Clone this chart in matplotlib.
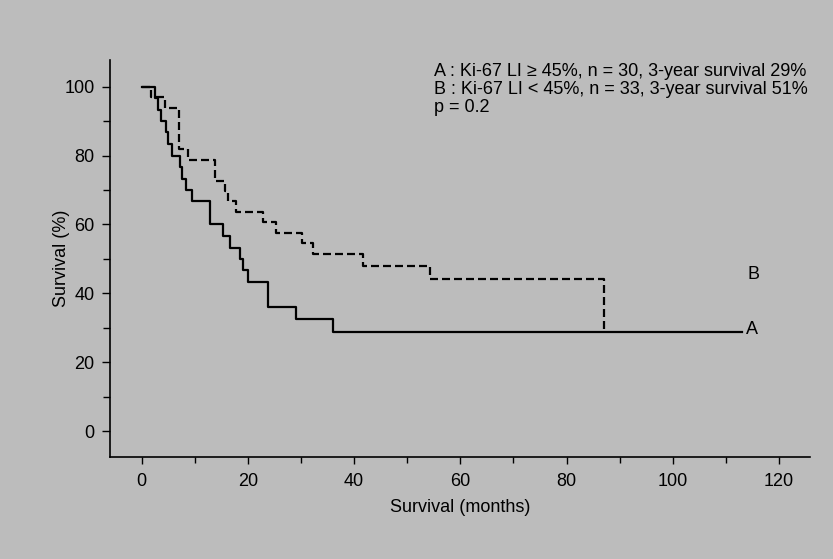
import matplotlib
matplotlib.use('Agg')
import matplotlib.pyplot as plt
from matplotlib.ticker import MultipleLocator

# Kaplan-Meier steps (months, % surviving)
months_a = [0, 2.45, 3.1, 3.7, 4.65, 5.0, 5.6, 7.1, 7.5, 8.4, 9.4, 12.8, 15.2, 16.6, 18.5, 19.1, 20.0, 23.8, 29.1, 36.0, 113.0]
surv_a = [100, 96.7, 93.3, 90.0, 86.7, 83.3, 80.0, 76.7, 73.3, 70.0, 66.7, 60.0, 56.7, 53.3, 50.0, 46.7, 43.3, 36.1, 32.5, 28.9, 28.9]

months_b = [0, 1.8, 4.3, 7.0, 8.7, 13.7, 15.6, 16.3, 17.8, 22.8, 25.2, 30.2, 32.3, 41.7, 54.2, 87.0]
surv_b = [100, 97.0, 93.9, 81.8, 78.8, 72.7, 69.7, 66.7, 63.6, 60.6, 57.6, 54.5, 51.5, 47.8, 44.1, 29.4]

legend_lines = ['A : Ki-67 LI \u2265 45%, n = 30, 3-year survival 29%',
                'B : Ki-67 LI < 45%, n = 33, 3-year survival 51%',
                'p = 0.2']

BG = '#bcbcbc'
FS = 13
plt.rcParams['font.family'] = ['Liberation Sans', 'DejaVu Sans']
plt.rc('font', size=FS)
plt.rc('xtick', labelsize=FS)
plt.rc('ytick', labelsize=FS)

fig = plt.figure(figsize=(8.33, 5.59), dpi=100, facecolor=BG)
ax = fig.add_axes([0.132, 0.182, 0.840, 0.711])
ax.set_facecolor(BG)

ax.plot(months_a, surv_a, drawstyle='steps-post', color='black', lw=1.6)
ax.plot(months_b, surv_b, drawstyle='steps-post', color='black', lw=1.6,
        linestyle=(0, (3.6, 1.8)))

ax.text(113.8, 29.5, 'A', ha='left', va='center', fontsize=FS)
ax.text(114.0, 45.5, 'B', ha='left', va='center', fontsize=FS)

# three-line key in the upper right
for i, line in enumerate(legend_lines):
    fig.text(434 / 833, 1 - (71 + 18 * i) / 559, line, ha='left', va='center', fontsize=FS)

ax.set_xlim(-6, 125.8)
ax.set_ylim(-7.6, 107.8)
ax.xaxis.set_major_locator(MultipleLocator(20))
ax.xaxis.set_minor_locator(MultipleLocator(10))
ax.yaxis.set_major_locator(MultipleLocator(20))
ax.yaxis.set_minor_locator(MultipleLocator(10))
ax.tick_params(which='both', direction='out', width=1.0, color='black')
ax.tick_params(axis='x', which='major', length=5, pad=6)
ax.tick_params(axis='x', which='minor', length=4)
ax.tick_params(axis='y', which='major', length=6, pad=5)
ax.tick_params(axis='y', which='minor', length=5)

for side in ['top', 'right']:
    ax.spines[side].set_visible(False)
for side in ['left', 'bottom']:
    ax.spines[side].set_linewidth(1.2)

ax.set_xlabel('Survival (months)', fontsize=FS, labelpad=7)
ax.set_ylabel('Survival (%)', fontsize=FS)
ax.yaxis.set_label_coords(-0.057, 0.5)

plt.savefig('out.png', dpi=100, facecolor=BG)
